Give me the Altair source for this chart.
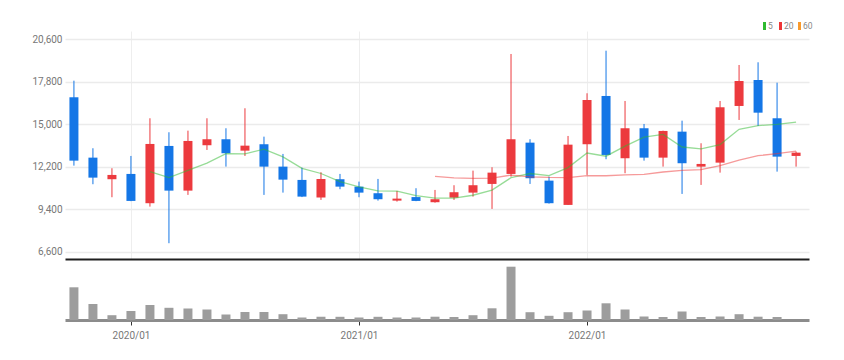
import altair as alt
import pandas as pd

months = ["2019/10", "2019/11", "2019/12",
          "2020/01", "2020/02", "2020/03", "2020/04", "2020/05", "2020/06",
          "2020/07", "2020/08", "2020/09", "2020/10", "2020/11", "2020/12",
          "2021/01", "2021/02", "2021/03", "2021/04", "2021/05", "2021/06",
          "2021/07", "2021/08", "2021/09", "2021/10", "2021/11", "2021/12",
          "2022/01", "2022/02", "2022/03", "2022/04", "2022/05", "2022/06",
          "2022/07", "2022/08", "2022/09", "2022/10", "2022/11", "2022/12"]
opens = [16779, 12800, 11377, 11726, 9796, 13571, 10626, 13617, 14012, 13261,
         13683, 12207, 11331, 10165, 11377, 10889, 10454, 9967, 10200, 9862,
         10165, 10494, 11067, 11726, 13788, 11285, 9684, 13683, 16865, 12760,
         14737, 12800, 14513, 12207, 12470, 16206, 17919, 15395, 12912]
highs = [17873, 13419, 12101, 12912, 15395, 14473, 14579, 15395, 14737, 16054,
         14183, 13044, 12141, 11838, 11726, 11219, 11397, 10606, 10784, 10672,
         10982, 11943, 12167, 19632, 14012, 11550, 14229, 17042, 19849, 16535,
         15020, 14579, 15237, 13748, 16535, 18907, 19085, 17741, 13200]
lows = [12273, 11047, 10191, 9930, 9572, 7160, 10343, 13307, 12207, 12912,
        10343, 10494, 10200, 10013, 10718, 10191, 9967, 9901, 9930, 9830,
        10013, 10231, 9420, 11550, 11067, 9770, 9684, 11660, 12694, 11772,
        12602, 12207, 10408, 11001, 11812, 15283, 14888, 11878, 12207]
closes = [12602, 11482, 11660, 9947, 13702, 10626, 13900, 14012, 13090, 13590,
          12207, 11350, 10231, 11397, 10889, 10494, 10059, 10099, 9947, 10059,
          10520, 10982, 11812, 14012, 11443, 9796, 13656, 16601, 12978, 14737,
          12800, 14559, 12431, 12385, 16120, 17853, 15764, 12866, 13129]
volumes = [327000, 160000, 48000, 90000, 150000, 122000, 115000, 105000, 55000, 80000,
           80000, 58000, 25000, 32000, 32000, 25000, 32000, 25000, 25000, 33000,
           30000, 48000, 117000, 533000, 78000, 42000, 78000, 95000, 167000, 105000,
           35000, 30000, 85000, 30000, 35000, 58000, 33000, 30000, 0]
price_ticks = [6600, 9400, 12200, 15000, 17800, 20600]
ma_windows = [5, 20]
ma_labels = ["5", "20", "60"]
ma_colors = ["#2fba2f", "#ee3535", "#f89a2c"]

RED = "#ec3a3e"
BLUE = "#1476e6"
FONT = "Roboto"

df = pd.DataFrame({
    "i": list(range(len(months))), "month": months,
    "open": opens, "high": highs, "low": lows, "close": closes, "volume": volumes,
})
legend_df = pd.DataFrame({"label": ma_labels, "color": ma_colors})

tick_idx = [i for i, m in enumerate(months) if m.endswith("/01")]
label_expr = "''"
for i in reversed(tick_idx):
    label_expr = f"datum.value == {i} ? '{months[i]}' : ({label_expr})"

x_scale = alt.Scale(domain=[-0.47, len(months) - 1 + 0.68], nice=False, zero=False, padding=0)
y_scale = alt.Scale(domain=[6119, 21147], nice=False, zero=False)
color_scale = alt.Scale(domain=ma_labels, range=ma_colors)

candle_color = alt.condition("datum.close >= datum.open", alt.value(RED), alt.value(BLUE))

base = alt.Chart(df)

x_price = alt.X("i:Q", scale=x_scale, title=None,
                axis=alt.Axis(values=tick_idx, labels=False, ticks=False, grid=True,
                              gridColor="#eeeeee", domainColor="#1e1e1e", domainWidth=2))
x_plain = alt.X("i:Q", scale=x_scale)

wick = base.mark_rule(strokeWidth=1).encode(
    x=x_price,
    y=alt.Y("low:Q", scale=y_scale, title=None,
            axis=alt.Axis(values=price_ticks, format=",d", labelFont=FONT, labelFontSize=10,
                          labelColor="#777", grid=True, gridColor="#ebebeb", gridWidth=1.5,
                          domain=False, ticks=False, labelPadding=3)),
    y2="high:Q",
    color=candle_color,
)

body = base.mark_bar(width=9).encode(
    x=x_plain, y=alt.Y("open:Q", scale=y_scale), y2="close:Q", color=candle_color
)


def ma_layer(n):
    return base.transform_window(
        window=[alt.WindowFieldDef(op="mean", field="close", **{"as": "ma"}),
                alt.WindowFieldDef(op="count", **{"as": "cnt"})],
        frame=[-(n - 1), 0], sort=[alt.SortField("i")],
    ).transform_filter(f"datum.cnt >= {n}").transform_calculate(
        line=f"'{n}'"
    ).mark_line(strokeWidth=1.3, opacity=0.5).encode(
        x=x_plain, y=alt.Y("ma:Q", scale=y_scale),
        color=alt.Color("line:N", scale=color_scale, legend=None),
    )


# small legend in the top-right corner (positions relative to the plot origin)
legend_x = [698, 714, 733]
legend_layers = []
for k, lab in enumerate(ma_labels):
    sub = alt.Chart(legend_df).transform_filter(f"datum.label == '{lab}'")
    legend_layers.append(
        sub.mark_rect(color=ma_colors[k]).encode(
            x=alt.value(legend_x[k]), x2=alt.value(legend_x[k] + 3),
            y=alt.value(-9), y2=alt.value(-1))
    )
    legend_layers.append(
        sub.mark_text(align="left", baseline="middle", font=FONT, fontSize=8.5,
                      color="#888").encode(
            x=alt.value(legend_x[k] + 5), y=alt.value(-5), text="label:N")
    )

price = alt.layer(wick, body, *[ma_layer(n) for n in ma_windows], *legend_layers).properties(
    width=744, height=228
)

vol = base.mark_bar(width=9, color="#9d9d9d").encode(
    x=alt.X("i:Q", scale=x_scale, title=None,
            axis=alt.Axis(values=tick_idx, labelExpr=label_expr, grid=False,
                          domainColor="#8c8c8c", domainWidth=3, tickColor="#333",
                          tickSize=5, tickWidth=1, labelFont=FONT, labelFontSize=10,
                          labelColor="#777", labelPadding=5)),
    y=alt.Y("volume:Q", scale=alt.Scale(domain=[0, 580000], nice=False), axis=None),
).properties(width=744, height=58)

chart = alt.vconcat(price, vol, spacing=3, bounds="flush").properties(
    padding={"left": 23, "top": 14, "right": 5, "bottom": 5},
    background="white",
).configure_view(stroke=None)

chart.save("out.html", embed_options={"renderer": "svg", "actions": False})
